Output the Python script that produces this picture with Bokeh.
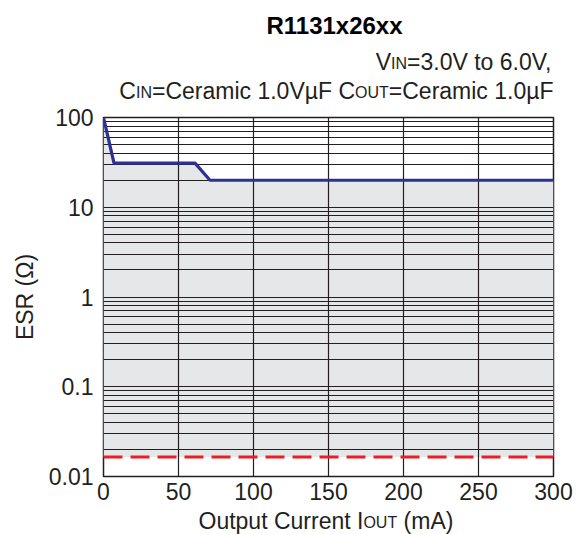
from bokeh.plotting import figure
from bokeh.models import Range1d, FixedTicker, ColumnDataSource
from bokeh.layouts import column
from bokeh.core.properties import value
from bokeh.embed import file_html
from bokeh.resources import INLINE

# ---- data ----
iout_stable = [0, 7, 61, 71, 300]          # mA, upper ESR boundary
esr_upper = [100, 31, 31, 20, 20]          # ohm
iout_lower = [0, 300]
esr_lower = [0.0165, 0.0165]               # ohm, lower ESR boundary
x_ticks = [0, 50, 100, 150, 200, 250, 300]
y_ticks = [0.01, 0.1, 1, 10, 100]
y_tick_labels = ["0.01", "0.1", "1", "10", "100"]
title_text = "R1131x26xx"
cond_line1 = [("V", "main"), ("IN", "sub"), ("=3.0V to 6.0V,", "main")]
cond_line2 = [("C", "main"), ("IN", "sub"), ("=Ceramic 1.0V\u00b5F C", "main"),
              ("OUT", "sub"), ("=Ceramic 1.0\u00b5F", "main")]
xlabel_runs = [("Output Current I", "main"), ("OUT", "sub"), (" (mA)", "main")]
ylabel_text = "ESR (\u03a9)"

FONT = "Liberation Sans"
TXT = "#231f20"
GRID = "#231f20"
MAIN, SUB = 23, 16

W = 576
FL, FR = 103, 553
TOP_H, MAIN_H, BOT_H = 104, 402, 28
K = 8 / 23   # empirical baseline correction (fraction of font size)

# ---------------- main plot ----------------
p = figure(width=W, height=MAIN_H, output_backend="svg", toolbar_location=None,
           x_range=Range1d(0, 300), y_range=Range1d(0.01, 100), y_axis_type="log",
           min_border_left=FL, min_border_right=W - FR, min_border_top=13,
           min_border_bottom=30, background_fill_color="white",
           border_fill_color="white")

p.outline_line_color = GRID
p.outline_line_width = 1.5

minor = [m * d for d in [0.01, 0.1, 1, 10] for m in range(2, 10)]
p.xaxis.ticker = FixedTicker(ticks=x_ticks)
p.yaxis.ticker = FixedTicker(ticks=y_ticks, minor_ticks=minor)
p.yaxis.major_label_overrides = {t: s for t, s in zip(y_ticks, y_tick_labels)}
for ax in (p.xaxis, p.yaxis):
    ax.axis_line_color = None
    ax.major_tick_line_color = None
    ax.minor_tick_line_color = None
    ax.major_tick_out = 0
    ax.major_tick_in = 0
    ax.minor_tick_out = 0
    ax.minor_tick_in = 0
    ax.major_label_text_font = FONT
    ax.major_label_text_font_size = f"{MAIN}px"
    ax.major_label_text_color = TXT
p.xaxis.major_label_standoff = 6
p.yaxis.major_label_standoff = 10
p.yaxis.axis_label = ylabel_text
p.yaxis.axis_label_text_font = FONT
p.yaxis.axis_label_text_font_size = f"{MAIN}px"
p.yaxis.axis_label_text_font_style = "normal"
p.yaxis.axis_label_text_color = TXT
p.yaxis.axis_label_standoff = 8

p.xgrid.grid_line_color = GRID
p.xgrid.grid_line_width = 1.2
p.ygrid.grid_line_color = GRID
p.ygrid.grid_line_width = 1.2
p.ygrid.minor_grid_line_color = GRID
p.ygrid.minor_grid_line_width = 1.2

p.varea(x=iout_stable, y1=[esr_lower[0]] * len(iout_stable), y2=esr_upper,
        fill_color="#e6e7e8", level="image")
p.line(iout_lower, esr_lower, line_color="#ee1c25", line_width=3.2, line_dash="19 8")
p.line(iout_stable, esr_upper, line_color="#2e3192", line_width=3.2)

# ---------------- text strips ----------------
CW = {' ': 278, '(': 333, ')': 333, ',': 278, '.': 278, '=': 584, 'A': 667, 'C': 722,
      'E': 667, 'F': 611, 'I': 278, 'N': 722, 'O': 778, 'R': 722, 'S': 667, 'T': 611,
      'U': 722, 'V': 667, 'a': 556, 'c': 500, 'e': 556, 'i': 222, 'm': 833, 'n': 556,
      'o': 556, 'p': 556, 'r': 333, 't': 278, 'u': 556, 'x': 500, '\u00b5': 576}


def tw(s, size):
    return sum(CW.get(c, 556) for c in s) / 1000 * size


def xd(px):
    # page pixel -> x data (same frame as the main plot)
    return (px - FL) * 300 / (FR - FL)


def strip(height):
    f = figure(width=W, height=height, output_backend="svg", toolbar_location=None,
               x_range=Range1d(0, 300), y_range=Range1d(height, 0),
               x_axis_location=None, y_axis_location=None,
               min_border_left=FL, min_border_right=W - FR, min_border_top=0,
               min_border_bottom=0, background_fill_color="white",
               border_fill_color="white")
    f.outline_line_color = None
    f.xgrid.visible = False
    f.ygrid.visible = False
    return f


def add_runs(f, parts, y_base, x_left=None, x_right=None):
    sizes = [MAIN if k == "main" else SUB for _, k in parts]
    total = sum(tw(t, s) for (t, _), s in zip(parts, sizes))
    x0 = x_left if x_left is not None else x_right - total
    xs, ys, ts, fs = [], [], [], []
    for (t, _), s in zip(parts, sizes):
        lead = len(t) - len(t.lstrip(" "))
        xs.append(xd(x0 + tw(" " * lead, s)))
        ys.append(y_base - K * s)
        ts.append(t.lstrip(" "))
        fs.append(f"{s}px")
        x0 += tw(t, s)
    src = ColumnDataSource(dict(x=xs, y=ys, text=ts, size=fs))
    f.text(x="x", y="y", text="text", source=src, text_font=value(FONT),
           text_font_size="size", text_color=TXT, text_align="left",
           text_baseline="alphabetic")


top = strip(TOP_H)
top.text(x=[xd(334)], y=[33 - K * 24], text=[title_text], text_font=value(FONT),
         text_font_size="24px", text_font_style="bold", text_color="black",
         text_align="center", text_baseline="alphabetic")
add_runs(top, cond_line1, 69, x_right=553)
add_runs(top, cond_line2, 98, x_right=553)

bot = strip(BOT_H)
add_runs(bot, xlabel_runs, 528 - (TOP_H + MAIN_H), x_left=198)

layout = column(top, p, bot, spacing=0)
open("out.html", "w").write(file_html(layout, INLINE))
